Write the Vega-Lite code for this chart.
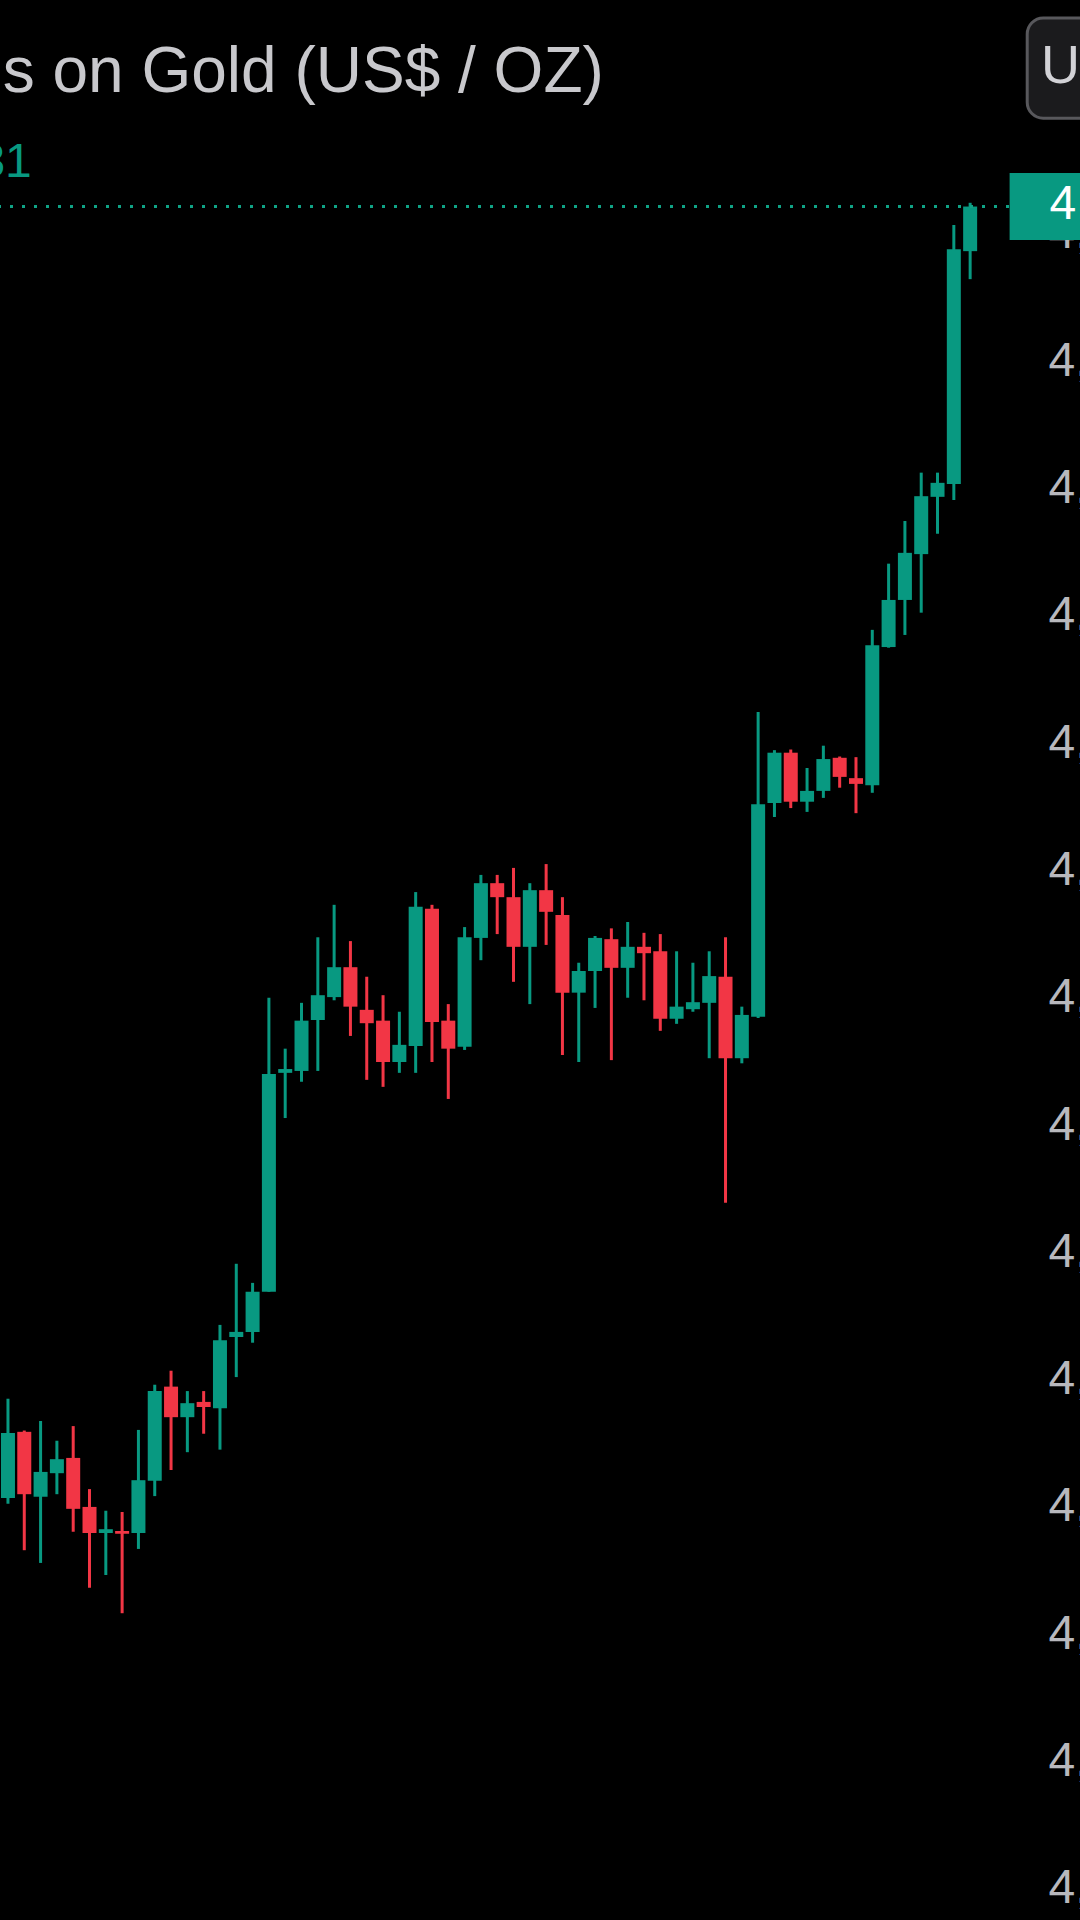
{
  "$schema": "https://vega.github.io/schema/vega-lite/v6.json",
  "description": "Candlestick chart of gold futures (US$ / OZ), dark theme, cropped phone view.",
  "width": 1080,
  "height": 1920,
  "autosize": "none",
  "padding": 0,
  "background": "#000000",
  "data": {
    "values": [
      {"i": 0, "o": 4061.4, "h": 4077.0, "l": 4060.5, "c": 4071.6},
      {"i": 1, "o": 4071.8, "h": 4072.0, "l": 4053.2, "c": 4062.0},
      {"i": 2, "o": 4061.6, "h": 4073.5, "l": 4051.2, "c": 4065.5},
      {"i": 3, "o": 4065.3, "h": 4070.4, "l": 4062.0, "c": 4067.5},
      {"i": 4, "o": 4067.7, "h": 4072.7, "l": 4056.1, "c": 4059.7},
      {"i": 5, "o": 4060.0, "h": 4062.8, "l": 4047.3, "c": 4055.9},
      {"i": 6, "o": 4055.9, "h": 4059.4, "l": 4049.3, "c": 4056.5},
      {"i": 7, "o": 4056.2, "h": 4059.2, "l": 4043.3, "c": 4055.8},
      {"i": 8, "o": 4055.9, "h": 4072.1, "l": 4053.4, "c": 4064.2},
      {"i": 9, "o": 4064.1, "h": 4079.2, "l": 4061.7, "c": 4078.2},
      {"i": 10, "o": 4078.9, "h": 4081.4, "l": 4065.8, "c": 4074.1},
      {"i": 11, "o": 4074.1, "h": 4078.2, "l": 4068.6, "c": 4076.3},
      {"i": 12, "o": 4076.5, "h": 4078.2, "l": 4071.5, "c": 4075.7},
      {"i": 13, "o": 4075.5, "h": 4088.6, "l": 4069.0, "c": 4086.2},
      {"i": 14, "o": 4086.7, "h": 4098.2, "l": 4080.4, "c": 4087.5},
      {"i": 15, "o": 4087.5, "h": 4095.2, "l": 4085.8, "c": 4093.8},
      {"i": 16, "o": 4093.8, "h": 4140.0, "l": 4093.8, "c": 4128.0},
      {"i": 17, "o": 4128.2, "h": 4132.0, "l": 4121.1, "c": 4128.8},
      {"i": 18, "o": 4128.5, "h": 4139.2, "l": 4126.8, "c": 4136.4},
      {"i": 19, "o": 4136.5, "h": 4149.5, "l": 4128.5, "c": 4140.4},
      {"i": 20, "o": 4140.1, "h": 4154.6, "l": 4139.6, "c": 4144.8},
      {"i": 21, "o": 4144.8, "h": 4148.9, "l": 4134.0, "c": 4138.6},
      {"i": 22, "o": 4138.1, "h": 4143.3, "l": 4127.1, "c": 4136.0},
      {"i": 23, "o": 4136.4, "h": 4140.4, "l": 4126.0, "c": 4129.9},
      {"i": 24, "o": 4129.9, "h": 4137.8, "l": 4128.2, "c": 4132.6},
      {"i": 25, "o": 4132.4, "h": 4156.6, "l": 4128.2, "c": 4154.3},
      {"i": 26, "o": 4154.0, "h": 4154.6, "l": 4129.9, "c": 4136.2},
      {"i": 27, "o": 4136.4, "h": 4139.0, "l": 4124.1, "c": 4132.0},
      {"i": 28, "o": 4132.3, "h": 4151.1, "l": 4131.8, "c": 4149.5},
      {"i": 29, "o": 4149.4, "h": 4159.3, "l": 4145.9, "c": 4158.0},
      {"i": 30, "o": 4158.0, "h": 4159.3, "l": 4150.0, "c": 4155.8},
      {"i": 31, "o": 4155.8, "h": 4160.4, "l": 4142.5, "c": 4148.0},
      {"i": 32, "o": 4148.0, "h": 4158.0, "l": 4139.0, "c": 4156.9},
      {"i": 33, "o": 4156.9, "h": 4161.0, "l": 4148.3, "c": 4153.5},
      {"i": 34, "o": 4153.0, "h": 4155.8, "l": 4131.0, "c": 4140.8},
      {"i": 35, "o": 4140.8, "h": 4145.5, "l": 4129.9, "c": 4144.2},
      {"i": 36, "o": 4144.2, "h": 4149.7, "l": 4138.4, "c": 4149.4},
      {"i": 37, "o": 4149.2, "h": 4150.9, "l": 4130.2, "c": 4144.7},
      {"i": 38, "o": 4144.7, "h": 4151.9, "l": 4140.0, "c": 4148.0},
      {"i": 39, "o": 4148.0, "h": 4150.2, "l": 4139.6, "c": 4147.0},
      {"i": 40, "o": 4147.3, "h": 4150.0, "l": 4134.8, "c": 4136.7},
      {"i": 41, "o": 4136.7, "h": 4147.3, "l": 4135.9, "c": 4138.6},
      {"i": 42, "o": 4138.2, "h": 4145.5, "l": 4137.8, "c": 4139.3},
      {"i": 43, "o": 4139.2, "h": 4147.3, "l": 4130.5, "c": 4143.4},
      {"i": 44, "o": 4143.3, "h": 4149.5, "l": 4107.8, "c": 4130.5},
      {"i": 45, "o": 4130.5, "h": 4138.6, "l": 4129.7, "c": 4137.3},
      {"i": 46, "o": 4137.0, "h": 4184.9, "l": 4136.8, "c": 4170.4},
      {"i": 47, "o": 4170.6, "h": 4178.9, "l": 4168.4, "c": 4178.5},
      {"i": 48, "o": 4178.5, "h": 4179.0, "l": 4169.8, "c": 4170.8},
      {"i": 49, "o": 4170.8, "h": 4176.1, "l": 4169.2, "c": 4172.5},
      {"i": 50, "o": 4172.5, "h": 4179.6, "l": 4171.4, "c": 4177.5},
      {"i": 51, "o": 4177.7, "h": 4177.9, "l": 4173.0, "c": 4174.7},
      {"i": 52, "o": 4174.5, "h": 4177.8, "l": 4169.0, "c": 4173.6},
      {"i": 53, "o": 4173.4, "h": 4197.8, "l": 4172.2, "c": 4195.4},
      {"i": 54, "o": 4195.1, "h": 4208.2, "l": 4195.0, "c": 4202.5},
      {"i": 55, "o": 4202.5, "h": 4214.9, "l": 4197.0, "c": 4209.9},
      {"i": 56, "o": 4209.7, "h": 4222.5, "l": 4200.5, "c": 4218.8},
      {"i": 57, "o": 4218.7, "h": 4222.5, "l": 4212.9, "c": 4220.9},
      {"i": 58, "o": 4220.7, "h": 4261.4, "l": 4218.2, "c": 4257.6},
      {"i": 59, "o": 4257.3, "h": 4264.9, "l": 4252.9, "c": 4264.31}
    ]
  },
  "layer": [
    {
      "mark": {"type": "rule", "strokeWidth": 3},
      "encoding": {
        "x": {"field": "i", "type": "quantitative", "axis": null,
              "scale": {"domain": [-0.182, 65.43], "nice": false, "zero": false}},
        "y": {"field": "l", "type": "quantitative", "title": null,
              "scale": {"domain": [3995.1, 4296.76], "nice": false, "zero": false},
              "axis": {
                "orient": "right", "offset": -32, "title": null,
                "values": [4000, 4020, 4040, 4060, 4080, 4100, 4120, 4140, 4160, 4180, 4200, 4220, 4240, 4260],
                "format": ",.0f", "grid": false, "ticks": false, "domain": false,
                "labelPadding": 0, "labelAlign": "left", "labelBaseline": "middle",
                "labelFont": "Liberation Sans", "labelFontSize": 48, "labelColor": "#b8b8bd",
                "labelOverlap": false, "labelFlush": false, "labelLimit": 400
              }},
        "y2": {"field": "h"},
        "color": {"condition": {"test": "datum.c >= datum.o", "value": "#089981"}, "value": "#f23645"}
      }
    },
    {
      "mark": {"type": "bar", "width": 14},
      "encoding": {
        "x": {"field": "i", "type": "quantitative"},
        "y": {"field": "o", "type": "quantitative"},
        "y2": {"field": "c"},
        "color": {"condition": {"test": "datum.c >= datum.o", "value": "#089981"}, "value": "#f23645"}
      }
    },
    {
      "data": {"values": [{}]},
      "mark": {"type": "rule", "strokeWidth": 3, "strokeDash": [3, 9], "strokeDashOffset": 1, "color": "#0fa386"},
      "encoding": {
        "y": {"datum": 4264.31}
      }
    },
    {
      "data": {"values": [{}]},
      "mark": {"type": "rect", "color": "#089981", "clip": false},
      "encoding": {
        "x": {"datum": 61.42},
        "x2": {"datum": 66.5},
        "y": {"datum": 4269.58},
        "y2": {"datum": 4259.05}
      }
    },
    {
      "transform": [{"filter": "datum.i == 59"}],
      "mark": {"type": "text", "align": "left", "baseline": "middle", "font": "Liberation Sans", "fontSize": 48, "color": "#ffffff", "dy": -2},
      "encoding": {
        "x": {"datum": 63.87},
        "y": {"field": "c", "type": "quantitative"},
        "text": {"field": "c", "type": "quantitative", "format": ",.2f"}
      }
    },
    {
      "data": {"values": [{}]},
      "mark": {"type": "text", "align": "left", "baseline": "alphabetic", "font": "Liberation Sans", "fontSize": 64, "color": "#c8c8cc"},
      "encoding": {
        "x": {"datum": -0.32},
        "y": {"datum": 4282.3},
        "text": {"value": "s on Gold (US$ / OZ)"}
      }
    },
    {
      "data": {"values": [{}]},
      "mark": {"type": "text", "align": "right", "baseline": "alphabetic", "font": "Liberation Sans", "fontSize": 48, "color": "#089981"},
      "encoding": {
        "x": {"datum": 1.46},
        "y": {"datum": 4268.95},
        "text": {"value": "31"}
      }
    },
    {
      "data": {"values": [{}]},
      "mark": {"type": "rect", "fill": "#1b1b1d", "stroke": "#58585c", "strokeWidth": 3, "cornerRadius": 16, "clip": false},
      "encoding": {
        "x": {"datum": 62.5},
        "x2": {"datum": 67.0},
        "y": {"datum": 4293.93},
        "y2": {"datum": 4278.2}
      }
    },
    {
      "data": {"values": [{}]},
      "mark": {"type": "text", "align": "left", "baseline": "alphabetic", "font": "Liberation Sans", "fontSize": 54, "color": "#d2d2d6"},
      "encoding": {
        "x": {"datum": 63.35},
        "y": {"datum": 4283.7},
        "text": {"value": "U"}
      }
    }
  ],
  "config": {
    "view": {"stroke": null}
  }
}
